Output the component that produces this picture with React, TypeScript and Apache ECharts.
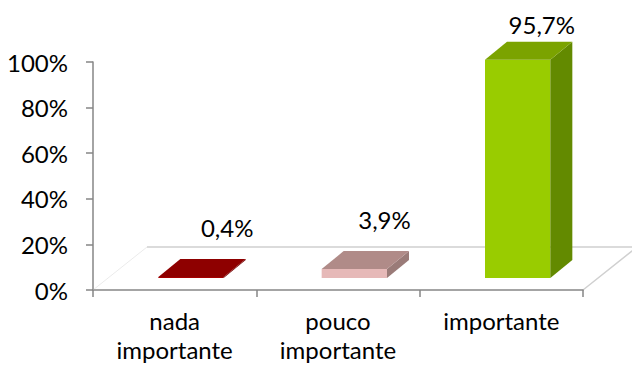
import React, { useEffect, useRef } from "react";
import * as echarts from "echarts";

const categories = ["nada\nimportante", "pouco\nimportante", "importante"];
const values = [0.4, 3.9, 95.7];
const yTicks = [0, 20, 40, 60, 80, 100];

const faceColors = [
  { front: "#A50000", top: "#8E0000", side: "#700000" },
  { front: "#E6B9B8", top: "#B08B88", side: "#9A7B78" },
  { front: "#99CC00", top: "#7BA300", side: "#638A00" },
];

const FONT = "Lato, 'Open Sans', sans-serif";

export default function App() {
  const ref = useRef<HTMLDivElement>(null);
  useEffect(() => {
    const chart = echarts.init(ref.current!, null, { renderer: "svg" });
    const depthFloor = [54, -43];
    const depthBar = [22, -18];
    const barShift = -12;
    chart.setOption({
      animation: false,
      grid: { left: 93, top: 62, width: 490, height: 228, containLabel: false },
      xAxis: {
        type: "category",
        data: categories,
        axisLine: { show: true, lineStyle: { color: "#868686", width: 1.5 } },
        axisTick: { show: true, length: 7, lineStyle: { color: "#868686", width: 1.5 } },
        axisLabel: {
          color: "#000",
          fontFamily: FONT,
          fontSize: 24,
          lineHeight: 29,
          margin: 16,
          interval: 0,
        },
        z: 5,
      },
      yAxis: {
        type: "value",
        min: yTicks[0],
        max: yTicks[yTicks.length - 1],
        interval: 20,
        axisLine: { show: true, lineStyle: { color: "#868686", width: 1.5 } },
        axisTick: { show: true, length: 7, lineStyle: { color: "#868686", width: 1.5 } },
        splitLine: { show: false },
        axisLabel: {
          color: "#000",
          fontFamily: FONT,
          fontSize: 24,
          margin: 25,
          formatter: "{value}%",
        },
      },
      series: [
        {
          type: "custom",
          z: 1,
          silent: true,
          data: [[0, 0]],
          renderItem: (params: any, api: any) => {
            const bw = api.size([1, 0])[0];
            const p0 = api.coord([0, 0]);
            const p1 = api.coord([categories.length - 1, 0]);
            const xl = p0[0] - bw / 2;
            const xr = p1[0] + bw / 2;
            const y = p0[1];
            const [dx, dy] = depthFloor;
            return {
              type: "group",
              children: [
                {
                  type: "polyline",
                  shape: { points: [[xl, y], [xl + dx, y + dy]] },
                  style: { stroke: "#ebebeb", lineWidth: 1, fill: null },
                },
                {
                  type: "polyline",
                  shape: { points: [[xl + dx, y + dy], [xr + dx, y + dy], [xr, y]] },
                  style: { stroke: "#d0d0d0", lineWidth: 1.5, fill: null },
                },
              ],
            };
          },
        },
        {
          type: "custom",
          z: 3,
          data: values.map((v, i) => [i, v]),
          renderItem: (params: any, api: any) => {
            const i = api.value(0);
            const v = api.value(1);
            const bw = api.size([1, 0])[0];
            const top = api.coord([i, v]);
            const base = api.coord([i, 0]);
            const cx = top[0];
            const fl = cx - bw * 0.1;
            const fr = fl + bw * 0.4;
            const yt = top[1] + barShift;
            const yb = base[1] + barShift;
            const [dx, dy] = depthBar;
            const c = faceColors[i];
            const label = v.toFixed(1).replace(".", ",") + "%";
            return {
              type: "group",
              children: [
                {
                  type: "polygon",
                  shape: { points: [[fl, yt], [fr, yt], [fr, yb], [fl, yb]] },
                  style: { fill: c.front },
                },
                {
                  type: "polygon",
                  shape: { points: [[fr, yt], [fr + dx, yt + dy], [fr + dx, yb + dy], [fr, yb]] },
                  style: { fill: c.side },
                },
                {
                  type: "polygon",
                  shape: { points: [[fl, yt], [fr, yt], [fr + dx, yt + dy], [fl + dx, yt + dy]] },
                  style: { fill: c.top },
                },
                {
                  type: "text",
                  x: cx * 0.963 + 59,
                  y: Math.max(yt - 50, 24),
                  style: {
                    text: label,
                    fill: "#000",
                    font: `24px ${FONT}`,
                    align: "center",
                    verticalAlign: "middle",
                  },
                },
              ],
            };
          },
        },
      ],
    });
    return () => chart.dispose();
  }, []);
  return (
    <div
      ref={ref}
      style={{ position: "fixed", left: 0, top: 0, width: 632, height: 370, background: "#fff" }}
    />
  );
}
